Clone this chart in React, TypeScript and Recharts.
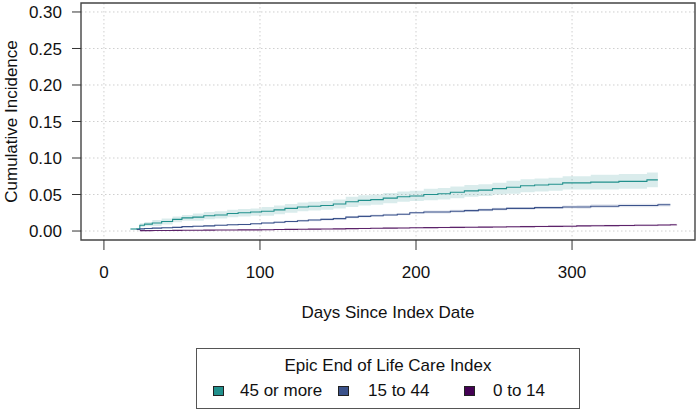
import React from "react";
import {
  ComposedChart,
  Line,
  Area,
  XAxis,
  YAxis,
  CartesianGrid,
  ReferenceArea,
} from "recharts";

// Days since index date (shared step grid for all groups)
const days = [
  17, 21, 23, 26, 31, 37, 44, 50, 57, 64, 71, 79, 86, 94, 101, 109, 116, 124, 131, 139, 147, 155,
  163, 171, 179, 188, 196, 205, 214, 222, 231, 240, 249, 258, 267, 276, 285, 294, 303, 312, 321,
  330, 340, 348, 355, 363, 367,
];

// 45 or more
const highEst = [
  0.0027, 0.003, 0.008, 0.0095, 0.011, 0.013, 0.016, 0.018, 0.019, 0.021, 0.022, 0.024, 0.025,
  0.026, 0.027, 0.029, 0.031, 0.033, 0.034, 0.035, 0.037, 0.04, 0.042, 0.043, 0.045, 0.047, 0.048,
  0.05, 0.051, 0.053, 0.055, 0.056, 0.058, 0.06, 0.062, 0.063, 0.064, 0.066, 0.066, 0.067, 0.067,
  0.068, 0.068, 0.07, 0.07, null, null,
];
const highLo = [
  0.0017, 0.0017, 0.0055, 0.0065, 0.007, 0.009, 0.012, 0.014, 0.014, 0.016, 0.017, 0.019, 0.02,
  0.021, 0.021, 0.023, 0.025, 0.027, 0.028, 0.029, 0.031, 0.033, 0.035, 0.036, 0.038, 0.04, 0.041,
  0.042, 0.043, 0.045, 0.047, 0.048, 0.05, 0.051, 0.053, 0.054, 0.055, 0.057, 0.057, 0.057, 0.057,
  0.058, 0.058, 0.06, 0.06, null, null,
];
const highHi = [
  0.0037, 0.0043, 0.0105, 0.0125, 0.015, 0.017, 0.02, 0.022, 0.024, 0.026, 0.027, 0.029, 0.03,
  0.031, 0.033, 0.035, 0.037, 0.039, 0.04, 0.041, 0.043, 0.047, 0.049, 0.05, 0.052, 0.054, 0.055,
  0.058, 0.059, 0.061, 0.063, 0.064, 0.066, 0.069, 0.071, 0.072, 0.073, 0.075, 0.075, 0.077, 0.077,
  0.078, 0.078, 0.08, 0.08, null, null,
];

// 15 to 44
const midEst = [
  null, 0.002, 0.003, 0.0035, 0.004, 0.0045, 0.005, 0.006, 0.0065, 0.007, 0.008, 0.0085, 0.009,
  0.01, 0.011, 0.012, 0.013, 0.014, 0.015, 0.016, 0.017, 0.019, 0.02, 0.021, 0.022, 0.023, 0.025,
  0.026, 0.026, 0.027, 0.028, 0.029, 0.03, 0.031, 0.031, 0.032, 0.032, 0.033, 0.033, 0.034, 0.034,
  0.035, 0.035, 0.035, 0.036, 0.036, null,
];
const midLo = [
  null, 0.0012, 0.002, 0.0025, 0.003, 0.0035, 0.004, 0.005, 0.0055, 0.006, 0.007, 0.0075, 0.008,
  0.009, 0.0095, 0.0105, 0.0115, 0.0125, 0.0135, 0.0145, 0.0155, 0.0175, 0.0185, 0.0195, 0.0205,
  0.0215, 0.0235, 0.024, 0.024, 0.025, 0.026, 0.027, 0.028, 0.029, 0.029, 0.03, 0.03, 0.031, 0.0305,
  0.0315, 0.0315, 0.0325, 0.0325, 0.0325, 0.0335, 0.0335, null,
];
const midHi = [
  null, 0.0028, 0.004, 0.0045, 0.005, 0.0055, 0.006, 0.007, 0.0075, 0.008, 0.009, 0.0095, 0.01,
  0.011, 0.0125, 0.0135, 0.0145, 0.0155, 0.0165, 0.0175, 0.0185, 0.0205, 0.0215, 0.0225, 0.0235,
  0.0245, 0.0265, 0.028, 0.028, 0.029, 0.03, 0.031, 0.032, 0.033, 0.033, 0.034, 0.034, 0.035, 0.0355,
  0.0365, 0.0365, 0.0375, 0.0375, 0.0375, 0.0385, 0.0385, null,
];

// 0 to 14
const lowEst = [
  null, null, 0.0005, 0.0006, 0.0007, 0.0008, 0.0009, 0.001, 0.0011, 0.0012, 0.0013, 0.0014,
  0.0015, 0.0016, 0.0018, 0.002, 0.0022, 0.0024, 0.0026, 0.0028, 0.003, 0.0033, 0.0035, 0.0037,
  0.004, 0.0042, 0.0044, 0.0046, 0.0048, 0.005, 0.0052, 0.0054, 0.0056, 0.0058, 0.006, 0.0062,
  0.0064, 0.0066, 0.007, 0.0072, 0.0074, 0.0076, 0.0078, 0.008, 0.0082, 0.0085, 0.0086,
];
const lowLo = [
  null, null, 0.0002, 0.0002, 0.0003, 0.0004, 0.0005, 0.0005, 0.0006, 0.0007, 0.0008, 0.0009,
  0.0009, 0.001, 0.0012, 0.0013, 0.0015, 0.0017, 0.0018, 0.002, 0.0022, 0.0024, 0.0026, 0.0028,
  0.003, 0.0032, 0.0034, 0.0036, 0.0037, 0.0039, 0.0041, 0.0043, 0.0044, 0.0046, 0.0048, 0.005,
  0.0052, 0.0053, 0.0057, 0.0059, 0.0061, 0.0062, 0.0064, 0.0066, 0.0068, 0.007, 0.0071,
];
const lowHi = [
  null, null, 0.0008, 0.001, 0.0011, 0.0012, 0.0013, 0.0015, 0.0016, 0.0017, 0.0018, 0.0019,
  0.0021, 0.0022, 0.0024, 0.0027, 0.0029, 0.0031, 0.0034, 0.0036, 0.0038, 0.0042, 0.0044, 0.0046,
  0.005, 0.0052, 0.0054, 0.0056, 0.0059, 0.0061, 0.0063, 0.0065, 0.0068, 0.007, 0.0072, 0.0074,
  0.0076, 0.0079, 0.0083, 0.0085, 0.0087, 0.009, 0.0092, 0.0094, 0.0096, 0.01, 0.0101,
];

const xTicks = [0, 100, 200, 300];
const yTicks = [0, 0.05, 0.1, 0.15, 0.2, 0.25, 0.3];

const TEAL = "#21908C";
const BLUE = "#3B528B";
const PURPLE = "#440154";

const legendItems = [
  { label: "45 or more", color: TEAL, box: 212, text: 239 },
  { label: "15 to 44", color: BLUE, box: 337, text: 367 },
  { label: "0 to 14", color: PURPLE, box: 463, text: 492 },
];

const range = (lo: (number | null)[], hi: (number | null)[], i: number) =>
  lo[i] == null || hi[i] == null ? null : [lo[i], hi[i]];

const data = days.map((d, i) => ({
  day: d,
  high: highEst[i],
  highBand: range(highLo, highHi, i),
  mid: midEst[i],
  midBand: range(midLo, midHi, i),
  low: lowEst[i],
  lowBand: range(lowLo, lowHi, i),
}));

const X_MIN = -14.7;
const X_MAX = 378.8;
const Y_MIN = -0.0123;
const Y_MAX = 0.3123;

export default function App() {
  const tick = { fill: "#111", fontSize: 17 };
  return (
    <div
      style={{
        position: "absolute",
        left: 0,
        top: 0,
        width: 700,
        height: 414,
        background: "#fff",
        fontFamily: "'Liberation Sans', Arial, sans-serif",
      }}
    >
      <ComposedChart
        width={700}
        height={414}
        data={data}
        margin={{ top: 3, right: 5, left: 0, bottom: 0 }}
      >
        <CartesianGrid
          stroke="#cfcfcf"
          strokeDasharray="1.5 2.5"
          verticalValues={xTicks}
          horizontalValues={yTicks}
        />
        <XAxis
          dataKey="day"
          type="number"
          domain={[X_MIN, X_MAX]}
          ticks={xTicks}
          allowDataOverflow
          height={174}
          axisLine={false}
          tickLine={{ stroke: "#333" }}
          tickSize={10}
          tickMargin={16}
          tick={tick}
          label={{
            value: "Days Since Index Date",
            position: "insideTop",
            offset: 66,
            fill: "#111",
            fontSize: 17,
          }}
        />
        <YAxis
          type="number"
          domain={[Y_MIN, Y_MAX]}
          ticks={yTicks}
          allowDataOverflow
          width={81}
          axisLine={false}
          tickLine={{ stroke: "#333" }}
          tickSize={9}
          tickMargin={10}
          tick={tick}
          tickFormatter={(v: number) => v.toFixed(2)}
          label={{
            value: "Cumulative Incidence",
            angle: -90,
            position: "insideLeft",
            offset: 11,
            fill: "#111",
            fontSize: 17,
            style: { textAnchor: "middle" },
          }}
        />
        <Area
          dataKey="highBand"
          type="stepAfter"
          stroke="none"
          fill={TEAL}
          fillOpacity={0.17}
          isAnimationActive={false}
          activeDot={false}
        />
        <Area
          dataKey="midBand"
          type="stepAfter"
          stroke="none"
          fill={BLUE}
          fillOpacity={0.14}
          isAnimationActive={false}
          activeDot={false}
        />
        <Area
          dataKey="lowBand"
          type="stepAfter"
          stroke="none"
          fill={PURPLE}
          fillOpacity={0.12}
          isAnimationActive={false}
          activeDot={false}
        />
        <Line
          dataKey="high"
          type="stepAfter"
          stroke={TEAL}
          strokeWidth={1.1}
          dot={false}
          isAnimationActive={false}
        />
        <Line
          dataKey="mid"
          type="stepAfter"
          stroke={BLUE}
          strokeWidth={1.1}
          dot={false}
          isAnimationActive={false}
        />
        <Line
          dataKey="low"
          type="stepAfter"
          stroke={PURPLE}
          strokeWidth={1.1}
          strokeOpacity={0.85}
          dot={false}
          isAnimationActive={false}
        />
        <ReferenceArea
          x1={X_MIN}
          x2={X_MAX}
          y1={Y_MIN}
          y2={Y_MAX}
          fill="none"
          stroke="#444"
          strokeWidth={1.4}
          ifOverflow="visible"
        />
      </ComposedChart>

      <div
        style={{
          position: "absolute",
          left: 196,
          top: 348,
          width: 384,
          height: 61,
          border: "1.3px solid #555",
          boxSizing: "border-box",
          color: "#111",
          fontSize: 17,
        }}
      >
        <div
          style={{
            position: "absolute",
            left: 0,
            right: 0,
            top: 7,
            textAlign: "center",
            lineHeight: "20px",
          }}
        >
          Epic End of Life Care Index
        </div>
        {legendItems.map((it) => (
          <React.Fragment key={it.label}>
            <div
              style={{
                position: "absolute",
                left: it.box - 196,
                top: 37,
                width: 11,
                height: 10,
                background: it.color,
                border: "1px solid #222",
                boxSizing: "border-box",
              }}
            />
            <div
              style={{
                position: "absolute",
                left: it.text - 196,
                top: 32,
                lineHeight: "20px",
                whiteSpace: "nowrap",
              }}
            >
              {it.label}
            </div>
          </React.Fragment>
        ))}
      </div>
    </div>
  );
}
